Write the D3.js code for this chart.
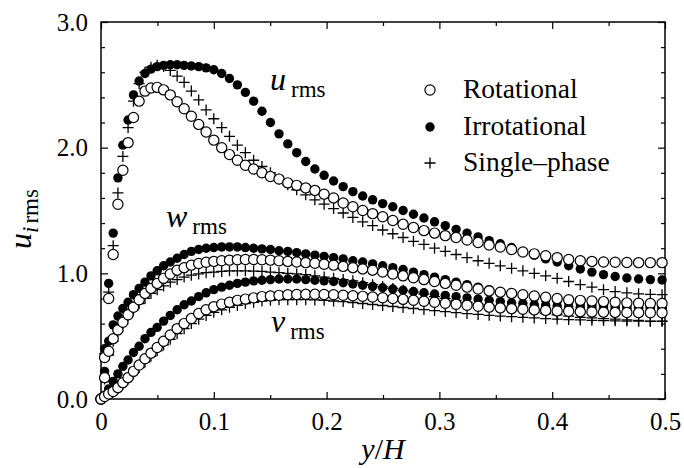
<!DOCTYPE html>
<html>
<head>
<meta charset="utf-8">
<script src="https://cdn.jsdelivr.net/npm/d3@7"></script>
<style>
  body { margin: 0; background: #fff; }
  svg { display: block; }
  text { font-family: "Liberation Serif", "DejaVu Serif", serif; fill: #000; }
</style>
</head>
<body>
<svg id="chart"></svg>
<script>
// wall-normal positions (shared by all runs)
const yH = [0, 0.0032, 0.0068, 0.0108, 0.0150, 0.0194, 0.0240, 0.0288, 0.0338, 0.0390,
  0.0443, 0.0498, 0.0555, 0.0614, 0.0675, 0.0737, 0.0801, 0.0866, 0.0932, 0.1000,
  0.1070, 0.1139, 0.1209, 0.1280, 0.1353, 0.1427, 0.1502, 0.1578, 0.1656, 0.1735,
  0.1815, 0.1896, 0.1978, 0.2062, 0.2147, 0.2233, 0.2320, 0.2408, 0.2497, 0.2587,
  0.2678, 0.2770, 0.2863, 0.2957, 0.3052, 0.3148, 0.3245, 0.3343, 0.3441, 0.3540,
  0.3640, 0.3740, 0.3841, 0.3942, 0.4044, 0.4146, 0.4249, 0.4352, 0.4455, 0.4558,
  0.4662, 0.4766, 0.4870, 0.4974];

// rotational (open circles)
const uRot = [0, 0.33, 0.80, 1.15, 1.55, 1.82, 2.04, 2.24, 2.37, 2.45,
  2.475, 2.48, 2.46, 2.42, 2.365, 2.31, 2.25, 2.185, 2.125, 2.06,
  2.00, 1.945, 1.90, 1.86, 1.83, 1.80, 1.77, 1.75, 1.72, 1.70,
  1.68, 1.66, 1.63, 1.60, 1.56, 1.53, 1.50, 1.475, 1.45, 1.42,
  1.39, 1.365, 1.34, 1.32, 1.30, 1.285, 1.265, 1.245, 1.225, 1.21,
  1.19, 1.17, 1.155, 1.14, 1.125, 1.11, 1.10, 1.095, 1.09, 1.088,
  1.086, 1.085, 1.085, 1.085];
const vRot = [0, 0.02, 0.04, 0.06, 0.09, 0.13, 0.17, 0.22, 0.27, 0.32,
  0.365, 0.41, 0.46, 0.51, 0.56, 0.60, 0.64, 0.68, 0.71, 0.735,
  0.755, 0.77, 0.785, 0.795, 0.805, 0.815, 0.82, 0.825, 0.83, 0.832,
  0.833, 0.833, 0.832, 0.83, 0.826, 0.822, 0.817, 0.812, 0.806, 0.80,
  0.793, 0.786, 0.778, 0.77, 0.762, 0.754, 0.746, 0.738, 0.731, 0.725,
  0.719, 0.714, 0.709, 0.705, 0.701, 0.698, 0.695, 0.693, 0.691, 0.689,
  0.688, 0.687, 0.686, 0.686];
const wRot = [0, 0.17, 0.38, 0.48, 0.55, 0.61, 0.67, 0.73, 0.79, 0.84,
  0.88, 0.92, 0.96, 0.995, 1.025, 1.045, 1.065, 1.078, 1.088, 1.095,
  1.10, 1.105, 1.108, 1.11, 1.11, 1.108, 1.105, 1.10, 1.095, 1.09,
  1.085, 1.08, 1.072, 1.065, 1.055, 1.045, 1.035, 1.025, 1.01, 0.995,
  0.98, 0.965, 0.95, 0.935, 0.92, 0.905, 0.89, 0.875, 0.86, 0.85,
  0.84, 0.83, 0.82, 0.81, 0.80, 0.79, 0.785, 0.78, 0.775, 0.77,
  0.765, 0.762, 0.76, 0.76];

// irrotational (filled circles)
const uIrr = [0, 0.40, 0.92, 1.32, 1.76, 2.02, 2.22, 2.42, 2.53, 2.59,
  2.625, 2.645, 2.655, 2.66, 2.66, 2.655, 2.65, 2.645, 2.635, 2.62,
  2.59, 2.55, 2.50, 2.44, 2.37, 2.29, 2.20, 2.11, 2.03, 1.96,
  1.89, 1.83, 1.78, 1.735, 1.69, 1.65, 1.615, 1.585, 1.555, 1.53,
  1.50, 1.47, 1.44, 1.41, 1.38, 1.35, 1.32, 1.29, 1.26, 1.235,
  1.205, 1.175, 1.145, 1.115, 1.09, 1.06, 1.035, 1.01, 0.99, 0.975,
  0.963, 0.955, 0.95, 0.947];
const vIrr = [0, 0.03, 0.08, 0.14, 0.20, 0.26, 0.31, 0.37, 0.42, 0.48,
  0.53, 0.57, 0.62, 0.665, 0.71, 0.75, 0.78, 0.815, 0.845, 0.87,
  0.89, 0.905, 0.92, 0.93, 0.94, 0.945, 0.95, 0.955, 0.955, 0.955,
  0.95, 0.945, 0.94, 0.935, 0.925, 0.915, 0.905, 0.895, 0.885, 0.875,
  0.865, 0.855, 0.845, 0.835, 0.825, 0.815, 0.805, 0.795, 0.785, 0.775,
  0.765, 0.76, 0.75, 0.745, 0.74, 0.735, 0.73, 0.727, 0.724, 0.722,
  0.72, 0.72, 0.72, 0.72];
const wIrr = [0, 0.22, 0.46, 0.59, 0.66, 0.72, 0.77, 0.83, 0.88, 0.93,
  0.98, 1.02, 1.06, 1.09, 1.12, 1.15, 1.175, 1.19, 1.20, 1.205,
  1.21, 1.21, 1.21, 1.205, 1.20, 1.195, 1.19, 1.18, 1.175, 1.165,
  1.155, 1.145, 1.135, 1.125, 1.115, 1.10, 1.09, 1.075, 1.06, 1.045,
  1.03, 1.01, 0.99, 0.97, 0.95, 0.93, 0.91, 0.89, 0.87, 0.85,
  0.835, 0.82, 0.805, 0.79, 0.78, 0.77, 0.76, 0.75, 0.745, 0.74,
  0.735, 0.73, 0.73, 0.73];

// single-phase (plus signs)
const uSin = [0, 0.36, 0.85, 1.22, 1.64, 1.93, 2.16, 2.37, 2.51, 2.60,
  2.64, 2.655, 2.645, 2.615, 2.57, 2.52, 2.45, 2.38, 2.30, 2.23,
  2.16, 2.09, 2.02, 1.96, 1.90, 1.85, 1.80, 1.75, 1.705, 1.665,
  1.625, 1.585, 1.55, 1.515, 1.48, 1.445, 1.41, 1.38, 1.345, 1.315,
  1.285, 1.255, 1.23, 1.20, 1.175, 1.15, 1.125, 1.10, 1.08, 1.06,
  1.04, 1.02, 1.0, 0.98, 0.96, 0.935, 0.91, 0.89, 0.87, 0.855,
  0.845, 0.837, 0.832, 0.83];
const vSin = [0, 0.015, 0.035, 0.055, 0.085, 0.12, 0.16, 0.205, 0.25, 0.295,
  0.34, 0.385, 0.43, 0.475, 0.52, 0.56, 0.60, 0.635, 0.665, 0.69,
  0.71, 0.73, 0.745, 0.76, 0.77, 0.78, 0.785, 0.79, 0.79, 0.79,
  0.79, 0.788, 0.785, 0.78, 0.775, 0.768, 0.76, 0.752, 0.744, 0.736,
  0.728, 0.72, 0.712, 0.704, 0.696, 0.688, 0.68, 0.673, 0.666, 0.66,
  0.655, 0.65, 0.645, 0.64, 0.636, 0.632, 0.629, 0.626, 0.624, 0.622,
  0.62, 0.619, 0.618, 0.618];
const wSin = [0, 0.16, 0.35, 0.46, 0.54, 0.60, 0.66, 0.71, 0.76, 0.80,
  0.84, 0.87, 0.90, 0.93, 0.95, 0.97, 0.985, 0.995, 1.005, 1.01,
  1.015, 1.02, 1.02, 1.02, 1.018, 1.015, 1.01, 1.005, 1.0, 0.995,
  0.99, 0.98, 0.97, 0.96, 0.95, 0.94, 0.925, 0.91, 0.895, 0.88,
  0.865, 0.85, 0.835, 0.815, 0.80, 0.785, 0.77, 0.755, 0.74, 0.725,
  0.71, 0.70, 0.69, 0.68, 0.67, 0.66, 0.65, 0.645, 0.64, 0.635,
  0.63, 0.625, 0.62, 0.62];

const legendLabels = ["Rotational", "Irrotational", "Single\u2013phase"];
const xTicks = [0, 0.1, 0.2, 0.3, 0.4, 0.5];
const xMinor = [0.05, 0.15, 0.25, 0.35, 0.45];
const yTicks = [0, 1, 2, 3];
const yMinor = [0.2, 0.4, 0.6, 0.8, 1.2, 1.4, 1.6, 1.8, 2.2, 2.4, 2.6, 2.8];

const svgWidth = 684, svgHeight = 468;
const plot = {left: 101, right: 665, top: 22, bottom: 399};

const chart = d3.select('#chart')
    .attr("width", svgWidth)
    .attr("height", svgHeight);

var xScale = d3.scaleLinear().domain([0, 0.5]).range([plot.left, plot.right]);
var yScale = d3.scaleLinear().domain([0, 3]).range([plot.bottom, plot.top]);

// axes, ticks pointing inwards on all four sides
function styleAxis(g) {
    g.select(".domain").remove();
    g.selectAll("line").attr("stroke", "#000").attr("stroke-width", 1.2);
    g.selectAll("text").style("font-size", "25px").style("font-family", "Liberation Serif, serif");
}

chart.append("g")
    .attr("transform", `translate(0,${plot.bottom})`)
    .call(d3.axisBottom(xScale).tickValues(xTicks).tickSize(-7).tickPadding(13)
        .tickFormat(d => d === 0 ? "0" : d3.format(".1f")(d)))
    .call(styleAxis);
chart.append("g")
    .attr("transform", `translate(0,${plot.bottom})`)
    .call(d3.axisBottom(xScale).tickValues(xMinor).tickSize(-4).tickFormat(""))
    .call(styleAxis);
chart.append("g")
    .attr("transform", `translate(0,${plot.top})`)
    .call(d3.axisTop(xScale).tickValues(xTicks).tickSize(-7).tickFormat(""))
    .call(styleAxis);
chart.append("g")
    .attr("transform", `translate(0,${plot.top})`)
    .call(d3.axisTop(xScale).tickValues(xMinor).tickSize(-4).tickFormat(""))
    .call(styleAxis);

chart.append("g")
    .attr("transform", `translate(${plot.left},0)`)
    .call(d3.axisLeft(yScale).tickValues(yTicks).tickSize(-7).tickPadding(13)
        .tickFormat(d3.format(".1f")))
    .call(styleAxis);
chart.append("g")
    .attr("transform", `translate(${plot.left},0)`)
    .call(d3.axisLeft(yScale).tickValues(yMinor).tickSize(-4).tickFormat(""))
    .call(styleAxis);
chart.append("g")
    .attr("transform", `translate(${plot.right},0)`)
    .call(d3.axisRight(yScale).tickValues(yTicks).tickSize(-7).tickFormat(""))
    .call(styleAxis);
chart.append("g")
    .attr("transform", `translate(${plot.right},0)`)
    .call(d3.axisRight(yScale).tickValues(yMinor).tickSize(-4).tickFormat(""))
    .call(styleAxis);

chart.append("rect")
    .attr("x", plot.left).attr("y", plot.top)
    .attr("width", plot.right - plot.left).attr("height", plot.bottom - plot.top)
    .attr("fill", "none").attr("stroke", "#000").attr("stroke-width", 1.5);

// markers
const plusPath = "M-5.5,0H5.5M0,-5.5V5.5";

function drawPlus(vals) {
    chart.append("g").selectAll("path")
        .data(vals).enter().append("path")
        .attr("d", plusPath)
        .attr("transform", (d, i) => `translate(${xScale(yH[i])},${yScale(d)})`)
        .attr("fill", "none").attr("stroke", "#000").attr("stroke-width", 1.3);
}
function drawFilled(vals) {
    chart.append("g").selectAll("circle")
        .data(vals).enter().append("circle")
        .attr("cx", (d, i) => xScale(yH[i]))
        .attr("cy", d => yScale(d))
        .attr("r", 4.7)
        .attr("fill", "#000");
}
function drawOpen(vals) {
    chart.append("g").selectAll("circle")
        .data(vals).enter().append("circle")
        .attr("cx", (d, i) => xScale(yH[i]))
        .attr("cy", d => yScale(d))
        .attr("r", 5.1)
        .attr("fill", "#fff").attr("stroke", "#000").attr("stroke-width", 1.2);
}

[uSin, wSin, vSin].forEach(drawPlus);
[uIrr, wIrr, vIrr].forEach(drawFilled);
[uRot, wRot, vRot].forEach(drawOpen);

// legend
const legendY = [90, 127, 163];
const lg = chart.append("g");
lg.append("circle").attr("cx", 430).attr("cy", legendY[0]).attr("r", 5.1)
    .attr("fill", "#fff").attr("stroke", "#000").attr("stroke-width", 1.2);
lg.append("circle").attr("cx", 430).attr("cy", legendY[1]).attr("r", 4.7).attr("fill", "#000");
lg.append("path").attr("d", plusPath).attr("transform", `translate(430,${legendY[2]})`)
    .attr("stroke", "#000").attr("stroke-width", 1.3);
lg.selectAll("text").data(legendLabels).enter().append("text")
    .attr("x", 463).attr("y", (d, i) => legendY[i] + 7.5)
    .style("font-size", "27.5px")
    .text(d => d);

// curve labels
function rmsLabel(x, y, letter) {
    const t = chart.append("text").attr("x", x).attr("y", y);
    t.append("tspan").style("font-style", "italic").style("font-size", "32px").text(letter);
    t.append("tspan").attr("dx", 5).attr("dy", 7).style("font-size", "23px").text("rms");
}
rmsLabel(270, 90, "u");
rmsLabel(166, 227, "w");
rmsLabel(271, 332, "v");

// axis titles
const xt = chart.append("text").attr("x", 383).attr("y", 459).attr("text-anchor", "middle")
    .style("font-size", "30px");
xt.append("tspan").style("font-style", "italic").text("y");
xt.append("tspan").text("/");
xt.append("tspan").style("font-style", "italic").text("H");

const yt = chart.append("text").attr("transform", "translate(31,249) rotate(-90)");
yt.append("tspan").style("font-style", "italic").style("font-size", "32px").text("u");
yt.append("tspan").attr("dy", 7).style("font-style", "italic").style("font-size", "23px").text("i");
yt.append("tspan").attr("dx", 3).style("font-size", "23px").text("rms");
</script>
</body>
</html>
